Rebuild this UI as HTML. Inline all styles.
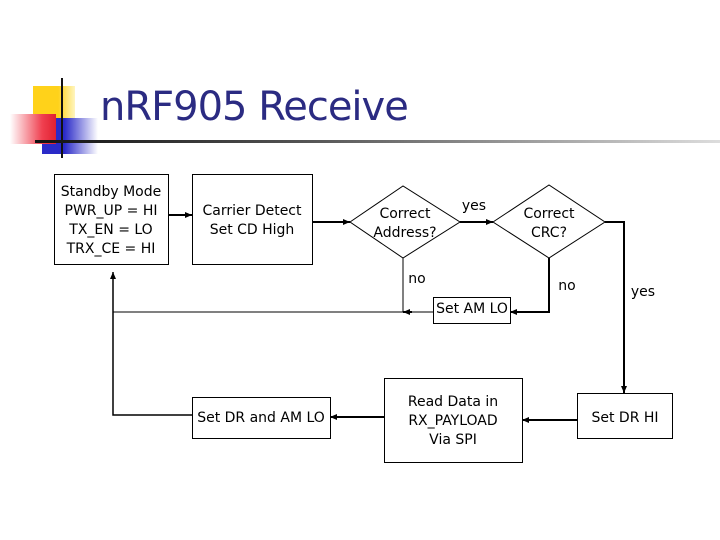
<!DOCTYPE html>
<html><head><style>
body{margin:0;background:#fff;width:720px;height:540px;overflow:hidden;position:relative;font-family:"DejaVu Sans","Liberation Sans",sans-serif}
.t{position:absolute;left:100px;top:84px;font-size:40px;color:#2b2b82;font-family:"DejaVu Sans","Liberation Sans",sans-serif;letter-spacing:-1px}
</style></head><body>
<div style="position:absolute;left:33px;top:86px;width:42px;height:34px;background:linear-gradient(90deg,#ffd21a 60%,#fff5c0)"></div>
<div style="position:absolute;left:42px;top:118px;width:56px;height:36px;background:linear-gradient(90deg,#2a2ac8 40%,#fff)"></div>
<div style="position:absolute;left:10px;top:114px;width:46px;height:30px;background:linear-gradient(90deg,#fff,#f04050 70%,#e02030)"></div>
<div style="position:absolute;left:61px;top:78px;width:2px;height:80px;background:#111"></div>
<div style="position:absolute;left:35px;top:140px;width:685px;height:3px;background:linear-gradient(90deg,#111,#555 40%,#ddd)"></div>
<div class="t">nRF905 Receive</div>
<svg width="720" height="540" style="position:absolute;left:0;top:0" font-family="DejaVu Sans, Liberation Sans, sans-serif" font-size="14" fill="#000">
<defs><marker id="a" markerWidth="8" markerHeight="8" refX="7" refY="4" orient="auto" markerUnits="userSpaceOnUse"><path d="M0,1 L7,4 L0,7z" fill="#000"/></marker></defs>
<g fill="none" stroke="#000" stroke-width="1">
<rect x="54.5" y="174.5" width="114" height="90"/>
<rect x="192.5" y="174.5" width="120" height="90"/>
<polygon points="350,222 403,186 460,222 403,258"/>
<polygon points="493,222 549,185 605,222 549,258"/>
<rect x="433.5" y="297.5" width="77" height="26"/>
<rect x="192.5" y="397.5" width="138" height="41"/>
<rect x="384.5" y="378.5" width="138" height="84"/>
<rect x="577.5" y="393.5" width="95" height="45"/>
<polyline points="433,312 113,312"/>
<polyline points="192,415 113,415 113,272" marker-end="url(#a)" stroke-width="1.5"/>
</g>
<g fill="none" stroke="#000" stroke-width="2">
<line x1="168" y1="215" x2="192" y2="215" marker-end="url(#a)"/>
<line x1="312" y1="222" x2="350" y2="222" marker-end="url(#a)"/>
<line x1="460" y1="222" x2="493" y2="222" marker-end="url(#a)"/>
<polyline points="403,258 403,312 400,312" stroke-width="1"/>
<line x1="412" y1="312" x2="403" y2="312" marker-end="url(#a)"/>
<polyline points="549,258 549,312 510,312" marker-end="url(#a)"/>
<polyline points="605,222 624,222 624,393" marker-end="url(#a)"/>
<line x1="577" y1="420" x2="522" y2="420" marker-end="url(#a)"/>
<line x1="384" y1="417" x2="330" y2="417" marker-end="url(#a)"/>
</g>
<g text-anchor="middle">
<text x="111" y="196">Standby Mode</text>
<text x="111" y="215">PWR_UP = HI</text>
<text x="111" y="234">TX_EN = LO</text>
<text x="111" y="253">TRX_CE = HI</text>
<text x="252" y="215">Carrier Detect</text>
<text x="252" y="234">Set CD High</text>
<text x="405" y="218">Correct</text>
<text x="405" y="237">Address?</text>
<text x="549" y="218">Correct</text>
<text x="549" y="237">CRC?</text>
<text x="472" y="313">Set AM LO</text>
<text x="261" y="422">Set DR and AM LO</text>
<text x="453" y="406">Read Data in</text>
<text x="453" y="425">RX_PAYLOAD</text>
<text x="453" y="444">Via SPI</text>
<text x="625" y="422">Set DR HI</text>
<text x="474" y="210">yes</text>
<text x="417" y="283">no</text>
<text x="567" y="290">no</text>
<text x="643" y="296">yes</text>
</g>
</svg>
</body></html>
